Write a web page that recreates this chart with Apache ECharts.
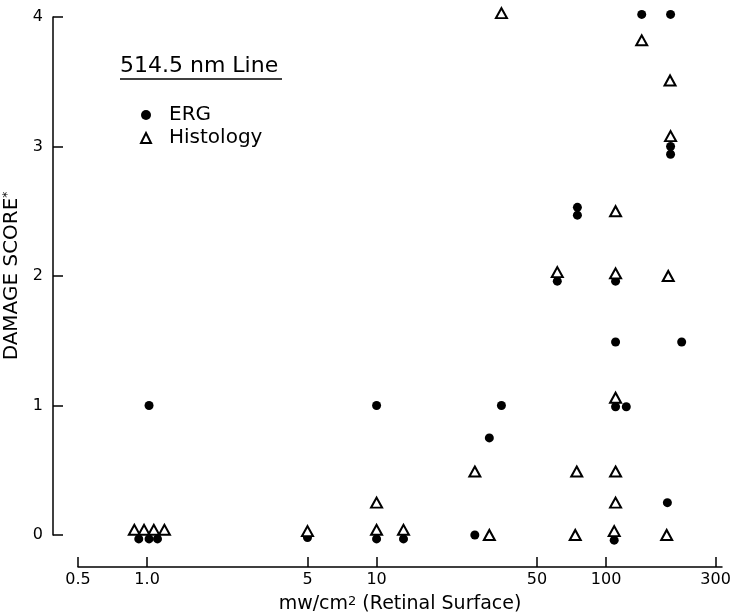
<!DOCTYPE html>
<html lang="en">
<head>
<meta charset="UTF-8">
<title>damage score</title>
<script src="https://cdn.jsdelivr.net/npm/echarts@6/dist/echarts.min.js"></script>
<style>html,body{margin:0;background:#fff}</style>
</head>
<body>
<div id="main" style="width:738px;height:616px;"></div>
<script>
// tick labels of the log axis
var xTicks = [0.5, 1, 5, 10, 50, 100, 300];
var xTickLabels = ['0.5', '1.0', '5', '10', '50', '100', '300'];

// ERG (filled circles)
var ergDose  = [0.92, 1.02, 1.11, 1.02, 5, 10, 13.1, 10, 26.8, 31, 35, 61.3, 75, 75, 110, 110, 110, 122.5, 108.5, 143, 191, 191, 191, 185, 213.5];
var ergScore = [-0.03, -0.03, -0.03, 1.0, -0.02, -0.03, -0.03, 1.0, 0.0, 0.75, 1.0, 1.96, 2.53, 2.47, 1.96, 1.49, 0.99, 0.99, -0.04, 4.02, 4.02, 3.0, 2.94, 0.25, 1.49];

// Histology (open triangles)
var histDose  = [0.88, 0.97, 1.07, 1.19, 5, 10, 13.1, 10, 26.8, 31, 35, 61.3, 73.4, 74.5, 110, 110, 110, 110, 110, 108.5, 143, 190, 191, 186.6, 183.7];
var histScore = [0.04, 0.04, 0.04, 0.04, 0.03, 0.04, 0.04, 0.25, 0.49, 0.0, 4.03, 2.03, 0.0, 0.49, 2.5, 2.02, 1.06, 0.49, 0.25, 0.03, 3.82, 3.51, 3.08, 2.0, 0.0];

function pairs(xs, ys) {
    return xs.map(function (x, i) { return [x, ys[i]]; });
}

var font = 'DejaVu Sans';
var myChart = echarts.init(document.getElementById('main'));

var option = {
    backgroundColor: '#fff',
    animation: false,
    textStyle: { fontFamily: font, color: '#000' },
    title: {
        text: '514.5 nm Line',
        left: 115,
        top: 50,
        textStyle: { fontFamily: font, fontSize: 22, fontWeight: 'normal', color: '#000' }
    },
    graphic: [{
        type: 'line',
        shape: { x1: 120, y1: 79, x2: 282, y2: 79 },
        style: { stroke: '#000', lineWidth: 1.5 }
    }],
    legend: {
        data: ['ERG', 'Histology'],
        orient: 'vertical',
        left: 135,
        top: 100,
        itemWidth: 10,
        itemHeight: 10,
        itemGap: 3,
        textStyle: { fontFamily: font, fontSize: 20, color: '#000', padding: [0, 0, 0, 13], lineHeight: 18 }
    },
    grid: { left: 78, right: 16, top: 17, bottom: 81, outerBoundsMode: 'none', containLabel: false },
    xAxis: {
        type: 'log',
        logBase: 10,
        min: 0.5,
        max: 320,
        offset: 32,
        name: 'mw/cm{sup|2} (Retinal Surface)',
        nameLocation: 'middle',
        nameGap: 28,
        nameTextStyle: {
            fontFamily: font, fontSize: 19, color: '#000',
            rich: { sup: { fontFamily: font, fontSize: 13, verticalAlign: 'top', color: '#000' } }
        },
        axisLine: { onZero: false, lineStyle: { color: '#000', width: 1.5 } },
        axisTick: { inside: true, length: 10, customValues: xTicks, lineStyle: { color: '#000', width: 1.5 } },
        axisLabel: {
            customValues: xTicks,
            margin: 5,
            fontFamily: font,
            fontSize: 16,
            color: '#000',
            formatter: function (v) {
                var i = xTicks.indexOf(+Number(v).toPrecision(6));
                return i >= 0 ? xTickLabels[i] : '';
            }
        },
        minorTick: { show: false },
        splitLine: { show: false }
    },
    yAxis: {
        type: 'value',
        min: 0,
        max: 4,
        interval: 1,
        offset: 25,
        name: '{t|DAMAGE SCORE}{sup|*}',
        nameLocation: 'middle',
        nameGap: 25,
        nameTextStyle: {
            rich: {
                t: { fontFamily: font, fontSize: 20, color: '#000' },
                sup: { fontFamily: font, fontSize: 12, verticalAlign: 'top', color: '#000' }
            }
        },
        axisLine: { show: true, onZero: false, lineStyle: { color: '#000', width: 1.5 } },
        axisTick: { show: true, inside: true, length: 10, lineStyle: { color: '#000', width: 1.5 } },
        axisLabel: { margin: 10, fontFamily: font, fontSize: 16, color: '#000' },
        splitLine: { show: false }
    },
    series: [{
        name: 'ERG',
        type: 'scatter',
        clip: false,
        symbol: 'circle',
        symbolSize: 9,
        itemStyle: { color: '#000', opacity: 1 },
        data: pairs(ergDose, ergScore)
    }, {
        name: 'Histology',
        type: 'scatter',
        clip: false,
        symbol: 'triangle',
        symbolSize: [11, 10],
        itemStyle: { color: '#fff', borderColor: '#000', borderWidth: 2, opacity: 1 },
        data: pairs(histDose, histScore)
    }]
};

myChart.setOption(option);
</script>
</body>
</html>
